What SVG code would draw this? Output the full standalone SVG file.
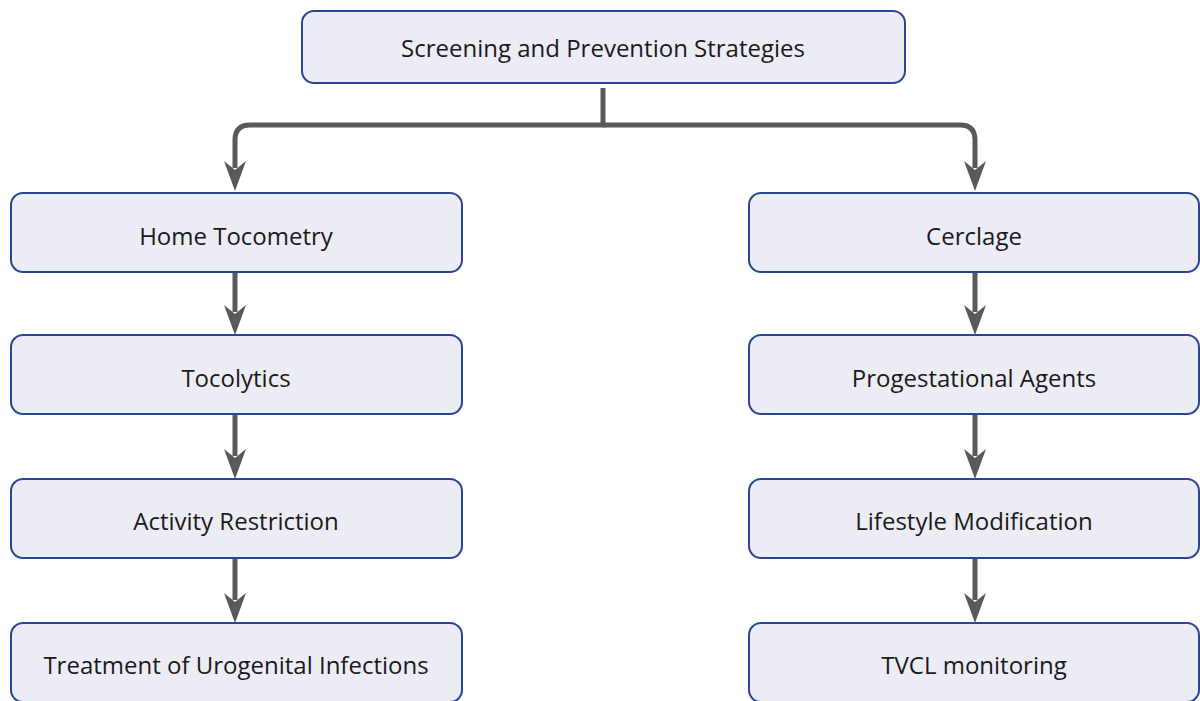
<svg xmlns="http://www.w3.org/2000/svg" width="1200" height="701" viewBox="0 0 1200 701">
<style>
.node rect{fill:#ececf5;stroke:#2b4595;stroke-width:2}
.node text{font-family:"Open Sans","Noto Sans",sans-serif;font-size:24px;fill:#1a1a1a;text-anchor:middle;dominant-baseline:central}
.edge{fill:none;stroke:#595959;stroke-width:5}
.head{fill:#595959}
</style>
<rect width="1200" height="701" fill="#ffffff"/>
<g id="connectors">
<path class="edge" d="M603,88 V125 H250 Q235,125 235,140 V168"/>
<path class="edge" d="M603,125 H960 Q975,125 975,140 V168"/>
<path class="head" d="M224,161 L235,191 L246,161 L235,170 Z"/>
<path class="head" d="M964,161 L975,191 L986,161 L975,170 Z"/>
<line class="edge" x1="235" y1="273" x2="235" y2="312"/>
<path class="head" d="M224,305 L235,335 L246,305 L235,314 Z"/>
<line class="edge" x1="235" y1="415" x2="235" y2="456"/>
<path class="head" d="M224,449 L235,479 L246,449 L235,458 Z"/>
<line class="edge" x1="235" y1="559" x2="235" y2="600"/>
<path class="head" d="M224,593 L235,623 L246,593 L235,602 Z"/>
<line class="edge" x1="975" y1="273" x2="975" y2="312"/>
<path class="head" d="M964,305 L975,335 L986,305 L975,314 Z"/>
<line class="edge" x1="975" y1="415" x2="975" y2="456"/>
<path class="head" d="M964,449 L975,479 L986,449 L975,458 Z"/>
<line class="edge" x1="975" y1="559" x2="975" y2="600"/>
<path class="head" d="M964,593 L975,623 L986,593 L975,602 Z"/>
</g>
<g id="n0" class="node"><rect x="302" y="11" width="603" height="72" rx="12"/><text x="603" y="47">Screening and Prevention Strategies</text></g>
<g id="n1" class="node"><rect x="11" y="193" width="451" height="79" rx="12"/><text x="236" y="235">Home Tocometry</text></g>
<g id="n2" class="node"><rect x="11" y="335" width="451" height="79" rx="12"/><text x="236" y="377">Tocolytics</text></g>
<g id="n3" class="node"><rect x="11" y="479" width="451" height="79" rx="12"/><text x="236" y="520">Activity Restriction</text></g>
<g id="n4" class="node"><rect x="11" y="623" width="451" height="79" rx="12"/><text x="236" y="664">Treatment of Urogenital Infections</text></g>
<g id="n5" class="node"><rect x="749" y="193" width="450" height="79" rx="12"/><text x="974" y="235">Cerclage</text></g>
<g id="n6" class="node"><rect x="749" y="335" width="450" height="79" rx="12"/><text x="974" y="377">Progestational Agents</text></g>
<g id="n7" class="node"><rect x="749" y="479" width="450" height="79" rx="12"/><text x="974" y="520">Lifestyle Modification</text></g>
<g id="n8" class="node"><rect x="749" y="623" width="450" height="79" rx="12"/><text x="974" y="664">TVCL monitoring</text></g>
</svg>
